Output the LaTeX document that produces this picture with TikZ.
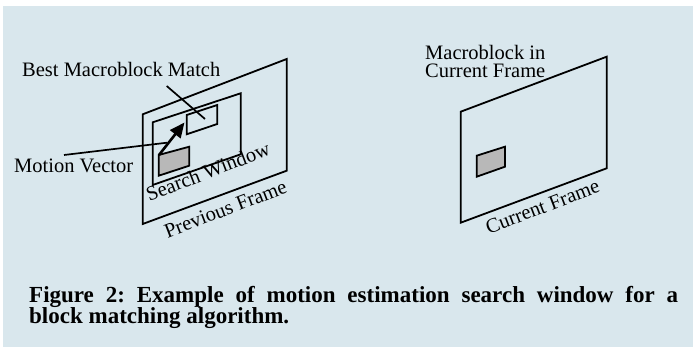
\documentclass[tikz,border=0pt]{standalone}
\usepackage{fontspec}
\setmainfont{Liberation Serif}
\usetikzlibrary{arrows.meta}
\definecolor{bgblue}{RGB}{217,231,237}
\definecolor{blockgray}{RGB}{184,184,184}
\frenchspacing
\begin{document}
\begin{tikzpicture}[x=1pt,y=-1pt,
  frame/.style={draw=black,line width=1.8pt,line join=miter},
  lbl/.style={inner sep=0pt,font=\fontsize{20.5}{20.5}\selectfont},
  leader/.style={draw=black,line width=1.7pt},
  captext/.style={inner sep=0pt,anchor=base west,font=\fontsize{23}{23}\bfseries\selectfont}]
\useasboundingbox (0,0) rectangle (693,347);
\fill[white] (0,0) rectangle (693,347);
\fill[bgblue] (3,6) rectangle (693,347);
% previous frame
\draw[frame] (142.7,114.3) -- (286.7,59) -- (286.7,170.7) -- (142.7,224) -- cycle;
% search window
\draw[frame] (152.7,122.3) -- (240.7,93.3) -- (240.7,154.3) -- (152.7,185) -- cycle;
% best match
\draw[frame] (186.7,115) -- (217.3,105) -- (217.3,124) -- (186.7,134.3) -- cycle;
% macroblock in previous frame
\draw[frame,fill=blockgray] (158.7,155) -- (189.3,146.7) -- (189.3,165.7) -- (158.7,175.7) -- cycle;
% motion vector arrow
\coordinate (mvs) at (159,155);
\coordinate (mve) at (184.5,122.5);
\draw[line width=2.6pt,-{Triangle[length=15pt,width=13pt]}] (mvs) -- (mve);
% labels
\node[lbl,anchor=base west] (best) at (22,76.7) {Best Macroblock Match};
\node[lbl,anchor=base west] (mv) at (14,172.5) {Motion Vector};
\node[lbl,rotate=21] (sw) at (208,171.5) {Search Window};
\node[lbl,rotate=21] (pf) at (225.5,209) {Previous Frame};
\coordinate (bl1) at (166.7,86);
\coordinate (bl2) at (205,119);
\draw[leader] (bl1) -- (bl2);
\coordinate (ml1) at (64,155);
\coordinate (ml2) at (167,142.7);
\draw[leader] (ml1) -- (ml2);
% current frame
\draw[frame] (460.7,111.7) -- (606.7,56.7) -- (606.7,168.3) -- (460.7,222.7) -- cycle;
\draw[frame,fill=blockgray] (476.7,155.7) -- (505,146.7) -- (505,166.7) -- (476.7,176.7) -- cycle;
\node[lbl,anchor=base west] (mb1) at (425,60) {Macroblock in};
\node[lbl,anchor=base west] (mb2) at (425,77.7) {Current Frame};
\node[lbl,rotate=21] (cf) at (542.5,206.7) {Current Frame};
% caption
\node[captext] (c1) at (29,302.7) {\makebox[649pt][s]{Figure 2: Example of motion estimation search window for a}};
\node[captext] (c2) at (29,323) {block matching algorithm.};
\end{tikzpicture}
\end{document}
